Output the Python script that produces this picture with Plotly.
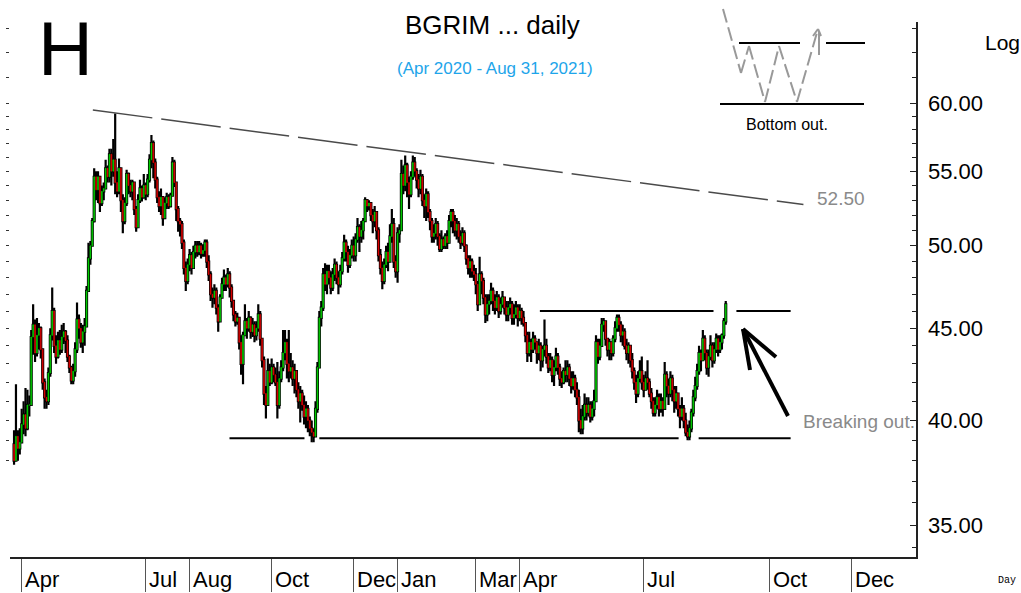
import numpy as np
import pandas as pd
import plotly.graph_objects as go

# ---------------- data ----------------
start_date = "2020-03-26"
first_open = 38.8

closes = [
    38.0, 39.2, 38.6, 38.9, 39.8, 40.3, 39.6, 40.8, 40.8, 44.5,
    45.2, 43.6, 44.6, 45.0, 43.8, 42.0, 41.2, 41.0, 42.5, 44.6,
    46.0, 44.0, 43.4, 44.3, 43.8, 44.5, 44.8, 44.3, 43.4, 42.8,
    42.1, 42.6, 43.8, 45.5, 45.0, 44.2, 44.8, 45.1, 47.2, 49.2,
    50.0, 51.6, 54.6, 53.7, 54.6, 52.8, 53.6, 53.8, 55.2, 54.6,
    56.2, 55.0, 55.8, 54.2, 53.6, 55.2, 53.0, 51.6, 52.8, 54.8,
    54.0, 53.6, 54.2, 52.4, 51.2, 53.0, 53.8, 53.2, 54.0, 53.4,
    54.4, 55.8, 57.0, 55.6, 54.4, 53.2, 52.6, 53.2, 51.8, 52.8,
    53.2, 52.6, 53.3, 55.6, 54.2, 52.4, 51.6, 51.4, 50.2, 48.6,
    47.8, 48.8, 49.4, 48.6, 49.6, 50.0, 49.6, 50.0, 49.5, 49.7,
    50.2, 49.0, 48.2, 47.0, 46.8, 47.2, 46.2, 45.4, 46.8, 47.6,
    48.0, 47.6, 48.2, 47.4, 46.6, 45.8, 45.4, 45.6, 44.2, 43.0,
    44.6, 45.4, 45.0, 45.6, 44.8, 45.2, 44.6, 45.0, 45.8, 44.4,
    43.2, 41.4, 40.8, 42.6, 42.0, 42.8, 42.4, 42.0, 40.8, 42.2,
    42.8, 43.6, 44.2, 43.0, 42.6, 42.8, 42.2, 42.6, 41.6, 41.0,
    41.4, 40.8, 40.2, 40.6, 40.0, 39.6, 39.4, 39.2, 40.6, 42.8,
    45.6, 46.2, 48.2, 47.6, 48.4, 48.0, 47.4, 48.2, 48.8, 48.0,
    47.6, 48.4, 49.2, 50.2, 49.6, 48.8, 49.4, 50.0, 49.4, 50.4,
    51.2, 50.6, 51.0, 51.6, 53.0, 52.6, 52.8, 52.0, 51.6, 52.2,
    51.0, 49.4, 48.6, 47.8, 48.8, 49.6, 49.0, 50.6, 51.4, 49.0,
    48.4, 50.8, 51.0, 54.8, 54.0, 55.4, 54.2, 53.4, 54.6, 55.6,
    55.0, 54.4, 53.8, 54.6, 53.0, 52.6, 53.4, 52.2, 51.6, 50.6,
    50.8, 51.4, 50.6, 49.8, 50.4, 50.0, 50.6, 50.2, 51.6, 52.2,
    51.6, 51.0, 51.4, 50.6, 50.2, 50.8, 50.0, 49.2, 48.6, 49.0,
    48.4, 48.2, 47.6, 46.4, 48.2, 47.8, 46.8, 45.8, 46.4, 46.6,
    47.2, 46.6, 46.2, 46.8, 46.0, 46.4, 46.8, 46.2, 45.8, 46.2,
    46.4, 45.6, 45.8, 46.2, 45.6, 46.0, 45.6, 45.3, 44.6, 43.6,
    44.2, 43.8, 44.4, 44.2, 43.6, 44.0, 43.2, 43.8, 44.0, 43.4,
    42.8, 43.2, 42.4, 42.8, 43.4, 42.8, 42.2, 42.0, 42.6, 42.4,
    42.8, 42.2, 41.8, 42.2, 41.6, 41.2, 40.0, 39.6, 40.2, 40.8,
    40.4, 40.8, 40.2, 40.6, 41.0, 44.2, 43.4, 44.0, 45.2, 45.4,
    44.4, 43.8, 44.2, 43.6, 44.4, 45.0, 45.6, 45.2, 44.6, 44.8,
    44.0, 43.6, 44.0, 43.2, 42.6, 42.0, 41.4, 42.2, 42.6, 42.0,
    41.6, 42.2, 42.0, 41.4, 41.0, 40.4, 40.8, 41.2, 40.6, 41.0,
    40.6, 42.4, 41.8, 41.4, 42.2, 41.6, 41.0, 41.4, 40.6, 40.2,
    40.6, 40.0, 39.4, 39.2, 39.6, 40.4, 41.2, 41.8, 42.6, 43.6,
    43.2, 44.4, 43.6, 42.8, 43.4, 44.0, 43.2, 43.8, 44.4, 43.8,
    44.2, 44.6, 45.4, 46.4,
]

highs = [
    39.5, 41.9, 39.5, 39.6, 40.6, 41.0, 41.7, 41.6, 41.3, 44.9,
    46.4, 45.5, 45.6, 45.3, 45.1, 43.6, 42.2, 41.6, 42.8, 45.0,
    47.4, 46.2, 44.6, 44.8, 44.9, 45.2, 45.3, 44.9, 44.6, 43.5,
    42.9, 43.0, 44.2, 46.5, 45.8, 45.3, 45.2, 45.6, 47.5, 50.2,
    50.3, 51.8, 55.2, 55.0, 55.0, 54.2, 54.0, 54.2, 55.8, 55.4,
    56.6, 56.6, 57.3, 59.2, 55.0, 55.9, 55.0, 53.4, 53.2, 55.1,
    54.9, 54.4, 54.4, 54.2, 52.6, 53.4, 54.4, 54.0, 54.8, 54.2,
    54.8, 56.2, 57.6, 57.2, 55.9, 54.6, 53.6, 53.8, 53.0, 53.2,
    53.5, 53.4, 53.5, 56.0, 55.8, 52.7, 52.6, 51.8, 51.6, 50.4,
    49.0, 49.2, 49.8, 49.6, 50.0, 50.3, 50.3, 50.3, 50.2, 50.1,
    50.4, 50.4, 49.4, 48.4, 47.4, 47.6, 47.4, 46.4, 47.0, 48.0,
    48.5, 48.2, 48.6, 48.4, 47.6, 46.6, 46.0, 45.9, 45.6, 44.6,
    44.8, 46.4, 45.6, 46.0, 45.7, 45.6, 45.4, 45.4, 46.4, 46.0,
    44.4, 43.4, 41.8, 43.3, 43.0, 43.3, 43.0, 42.8, 43.1, 42.6,
    43.2, 44.9, 44.9, 44.4, 44.9, 43.6, 43.2, 43.0, 42.6, 42.0,
    41.8, 41.6, 41.3, 41.0, 40.8, 40.2, 40.0, 39.6, 41.0, 43.1,
    46.0, 46.6, 48.6, 48.9, 48.8, 48.8, 48.4, 48.6, 49.2, 49.0,
    48.4, 48.8, 49.6, 50.7, 50.4, 50.0, 49.8, 50.4, 50.6, 50.8,
    51.8, 51.4, 51.6, 51.8, 53.2, 53.0, 53.0, 52.7, 52.4, 52.6,
    52.2, 51.2, 49.8, 49.0, 49.2, 50.0, 50.2, 51.4, 52.4, 51.8,
    49.4, 51.2, 51.4, 55.8, 55.4, 56.1, 55.6, 54.6, 55.0, 56.1,
    56.0, 55.2, 54.8, 55.1, 54.8, 53.4, 53.8, 53.6, 52.4, 51.8,
    51.4, 51.8, 51.6, 50.8, 51.0, 50.6, 50.8, 51.0, 52.0, 52.4,
    52.4, 52.0, 51.8, 51.6, 51.0, 51.2, 51.0, 50.1, 49.4, 49.4,
    49.2, 48.8, 48.6, 47.8, 49.3, 48.4, 48.0, 47.0, 47.0, 47.0,
    47.7, 47.4, 47.0, 47.2, 47.0, 46.8, 47.2, 46.8, 46.6, 46.6,
    46.8, 46.6, 46.4, 46.6, 46.4, 46.4, 46.2, 46.0, 45.3, 44.8,
    44.8, 44.4, 44.8, 44.6, 44.2, 44.4, 44.2, 44.0, 45.5, 44.4,
    43.6, 43.6, 43.4, 43.2, 43.9, 43.6, 43.0, 42.6, 42.8, 43.2,
    43.2, 43.0, 42.6, 42.6, 42.4, 42.0, 41.6, 40.6, 40.8, 41.4,
    41.2, 41.2, 41.0, 41.0, 41.6, 44.6, 44.4, 44.4, 45.6, 45.6,
    45.0, 44.4, 44.4, 44.2, 44.6, 45.4, 45.8, 45.8, 45.4, 45.2,
    45.0, 44.4, 44.2, 44.0, 43.6, 42.8, 42.4, 42.6, 43.2, 43.4,
    42.4, 42.6, 43.2, 42.2, 41.7, 41.2, 41.2, 41.6, 41.4, 41.4,
    41.2, 43.1, 42.6, 42.2, 42.6, 42.4, 41.8, 41.8, 41.4, 40.8,
    41.2, 40.8, 40.4, 39.8, 40.0, 40.6, 41.6, 42.3, 43.0, 44.0,
    43.8, 44.9, 44.6, 43.8, 43.8, 44.6, 44.2, 44.2, 44.7, 44.6,
    44.6, 44.7, 45.6, 46.6,
]

lows = [
    37.8, 38.6, 38.0, 38.3, 38.9, 39.3, 39.2, 39.5, 40.2, 41.0,
    43.5, 43.1, 43.4, 43.8, 43.3, 41.6, 40.6, 40.6, 40.8, 42.3,
    44.3, 43.6, 43.0, 43.3, 43.5, 43.6, 44.1, 43.6, 43.1, 42.5,
    41.9, 41.9, 42.3, 43.6, 44.4, 43.9, 43.6, 44.0, 45.9, 47.2,
    48.8, 50.0, 51.5, 53.0, 52.8, 52.2, 52.6, 53.0, 54.4, 54.2,
    54.2, 54.0, 54.6, 53.4, 53.2, 53.4, 52.2, 50.8, 51.4, 52.6,
    53.4, 53.2, 53.0, 52.0, 50.9, 51.4, 52.8, 52.9, 53.1, 53.0,
    53.2, 54.2, 55.2, 54.5, 53.8, 52.8, 52.2, 52.0, 51.3, 52.0,
    52.4, 52.4, 52.5, 53.6, 53.9, 51.6, 50.9, 50.6, 49.8, 48.2,
    47.2, 47.6, 48.4, 48.2, 48.6, 49.2, 49.3, 49.4, 49.2, 49.3,
    49.3, 48.6, 47.8, 46.6, 46.2, 46.4, 45.8, 44.8, 45.4, 46.8,
    47.2, 47.2, 47.4, 46.8, 46.2, 45.4, 45.1, 45.2, 43.8, 42.4,
    41.9, 44.6, 44.4, 44.8, 44.4, 44.5, 44.2, 44.3, 44.8, 44.0,
    42.8, 40.8, 40.1, 41.6, 41.8, 41.9, 42.0, 41.8, 40.1, 40.6,
    42.0, 42.6, 43.2, 42.2, 42.0, 42.2, 41.8, 41.4, 41.2, 40.6,
    39.9, 40.5, 39.8, 39.6, 39.4, 39.2, 38.9, 38.9, 39.6, 40.4,
    43.0, 45.1, 46.0, 47.2, 47.0, 47.6, 47.0, 47.2, 47.8, 47.6,
    47.0, 47.4, 48.2, 49.0, 49.0, 48.3, 48.6, 49.2, 49.0, 49.0,
    50.2, 49.6, 50.2, 50.4, 52.4, 52.2, 52.3, 51.6, 50.8, 51.2,
    50.4, 49.0, 48.2, 47.3, 47.6, 48.6, 48.4, 49.2, 50.2, 48.6,
    48.0, 47.7, 50.2, 53.3, 53.4, 53.6, 53.2, 52.4, 53.2, 54.4,
    54.6, 53.8, 53.2, 53.4, 52.6, 51.8, 51.6, 51.8, 51.0, 50.2,
    50.2, 50.4, 50.0, 49.6, 49.6, 49.8, 49.8, 49.8, 50.2, 51.2,
    50.8, 50.6, 50.4, 50.2, 49.8, 50.0, 49.6, 48.8, 48.2, 48.0,
    48.0, 47.8, 47.0, 46.0, 46.6, 47.0, 46.4, 45.3, 45.4, 45.8,
    46.4, 46.0, 45.8, 46.0, 45.6, 45.8, 46.2, 45.8, 45.4, 45.4,
    45.8, 45.2, 45.2, 45.6, 45.1, 45.4, 45.2, 45.1, 44.2, 43.1,
    43.4, 43.1, 43.6, 43.8, 43.0, 43.2, 42.6, 42.8, 43.4, 43.0,
    42.5, 42.6, 42.0, 41.8, 42.6, 42.4, 41.8, 41.7, 41.9, 42.0,
    42.0, 41.8, 41.4, 41.6, 41.2, 40.8, 39.4, 39.3, 39.3, 40.0,
    40.0, 40.2, 39.9, 40.0, 40.2, 42.5, 43.0, 43.2, 44.8, 44.8,
    44.0, 43.4, 43.2, 43.2, 43.4, 44.2, 44.8, 44.8, 44.2, 44.0,
    43.8, 43.2, 43.0, 42.8, 42.2, 41.6, 40.9, 41.2, 42.0, 41.6,
    41.2, 41.6, 41.6, 41.2, 40.6, 40.2, 40.2, 40.6, 40.2, 40.4,
    40.2, 40.6, 41.2, 40.8, 41.2, 41.0, 40.4, 40.6, 40.2, 39.6,
    40.0, 39.6, 39.2, 39.0, 39.0, 39.4, 40.2, 41.0, 41.6, 42.4,
    42.6, 43.2, 43.2, 42.4, 42.3, 43.2, 42.8, 43.0, 43.6, 43.4,
    43.6, 43.8, 44.4, 45.2,
]

# axis labels
y_tick_vals = [35, 40, 45, 50, 55, 60]
y_tick_text = ["35.00", "40.00", "45.00", "50.00", "55.00", "60.00"]
x_tick_dates = ["2020-04-01", "2020-07-01", "2020-08-03", "2020-10-01", "2020-12-01",
                "2021-01-01", "2021-03-01", "2021-04-01", "2021-07-01", "2021-10-01",
                "2021-12-01"]
x_tick_text = ["Apr", "Jul", "Aug", "Oct", "Dec", "Jan", "Mar", "Apr", "Jul", "Oct", "Dec"]

# chart-pattern levels drawn on the chart
support_level = 39.1
resistance_level = 46.0
trend_start = ("2020-05-22 07:00", 59.47)
trend_end = ("2021-10-26 17:00", 52.7)

# ---------------- build ----------------
dates = pd.bdate_range(start_date, periods=len(closes))
opens = [first_open] + closes[:-1]
hi = [max(h, o, c) for h, o, c in zip(highs, opens, closes)]
lo = [min(l, o, c) for l, o, c in zip(lows, opens, closes)]
body_hi = [max(o, c) for o, c in zip(opens, closes)]
body_lo = [min(o, c) for o, c in zip(opens, closes)]

W_PX, H_PX = 1021, 593
L, R, T, B = 10, 916, 22, 557
PW, PH = R - L, B - T


def px(x):
    return (x - L) / PW


def py(y):
    return (B - y) / PH


fig = go.Figure()
# black high-low bars
fig.add_trace(go.Candlestick(
    x=dates, open=opens, high=hi, low=lo, close=closes,
    increasing=dict(line=dict(color="black", width=2.2), fillcolor="black"),
    decreasing=dict(line=dict(color="black", width=2.2), fillcolor="black"),
    whiskerwidth=0, showlegend=False, hoverinfo="skip",
))
# coloured open-close streaks
fig.add_trace(go.Candlestick(
    x=dates, open=opens, high=body_hi, low=body_lo, close=closes,
    increasing=dict(line=dict(color="#00d400", width=0.6), fillcolor="#00d400"),
    decreasing=dict(line=dict(color="#e00000", width=0.6), fillcolor="#e00000"),
    whiskerwidth=0, showlegend=False, hoverinfo="skip",
))

# left-hand minor ticks (secondary axis, no labels)
left_ticks = list(range(38, 61)) + [62, 64, 66]
fig.add_trace(go.Scatter(x=[dates[0]], y=[45], yaxis="y2", mode="markers",
                         marker=dict(opacity=0), showlegend=False, hoverinfo="skip"))

yr = [np.log10(60 * np.exp(-(B - 103) / 783)), np.log10(60 * np.exp((103 - T) / 783))]

minor_right = [v for v in range(34, 61) if v not in y_tick_vals] + [62, 64, 66]

fig.update_layout(
    width=W_PX, height=H_PX, autosize=False,
    margin=dict(l=L, r=W_PX - R, t=T, b=H_PX - B, autoexpand=False),
    paper_bgcolor="white", plot_bgcolor="white",
    showlegend=False,
    font=dict(family="Liberation Sans, Arial, sans-serif", color="black"),
    xaxis=dict(
        type="date", automargin=False,
        range=["2020-03-23 21:00", "2022-01-17 17:00"],
        rangebreaks=[dict(bounds=["sat", "mon"])],
        tickmode="array", tickvals=x_tick_dates, ticktext=x_tick_text,
        showticklabels=False, ticks="outside", ticklen=33, tickwidth=1, tickcolor="#555",
        showline=True, linecolor="#222", linewidth=1.5, showgrid=False, zeroline=False,
        rangeslider=dict(visible=False), fixedrange=True,
    ),
    yaxis=dict(
        type="log", side="right", range=yr, automargin=False,
        tickmode="array", tickvals=y_tick_vals, ticktext=y_tick_text,
        ticks="inside", ticklen=6, tickcolor="#222", tickwidth=1,
        ticklabelstandoff=6,
        tickfont=dict(size=22, color="black"),
        minor=dict(tickmode="array", tickvals=minor_right, ticks="inside", ticklen=4,
                   tickcolor="#222", tickwidth=1, showgrid=False),
        showline=True, linecolor="#222", linewidth=1.5, showgrid=False, zeroline=False,
        fixedrange=True,
    ),
    yaxis2=dict(
        type="log", overlaying="y", side="left", range=yr, automargin=False,
        tickmode="array", tickvals=left_ticks, showticklabels=False,
        ticks="outside", ticklen=3, tickcolor="#333", tickwidth=1,
        showline=False, showgrid=False, zeroline=False, fixedrange=True,
    ),
)

shapes = []
# downward trend line (dashed)
shapes.append(dict(type="line", xref="x", yref="y",
                   x0=trend_start[0], y0=trend_start[1], x1=trend_end[0], y1=trend_end[1],
                   line=dict(color="#4a4a4a", width=1.5, dash="60px,9px")))
# support line segments
for a, b in [("2020-08-31 22:00", "2020-10-26 05:00"),
             ("2020-11-05", "2021-07-27 07:00"),
             ("2021-08-10 19:00", "2021-10-18")]:
    shapes.append(dict(type="line", xref="x", yref="y", x0=a, x1=b,
                       y0=support_level, y1=support_level,
                       line=dict(color="black", width=2)))
# resistance line segments
for a, b in [("2021-04-15 14:00", "2021-08-20 14:00"),
             ("2021-09-07 14:00", "2021-10-18")]:
    shapes.append(dict(type="line", xref="x", yref="y", x0=a, x1=b,
                       y0=resistance_level, y1=resistance_level,
                       line=dict(color="black", width=2)))

# breakout arrow
for (x0, y0, x1, y1) in [(788, 416, 743, 329), (743, 329, 750, 370), (743, 329, 776, 357)]:
    shapes.append(dict(type="line", xref="paper", yref="paper",
                       x0=px(x0), y0=py(y0), x1=px(x1), y1=py(y1),
                       line=dict(color="black", width=4)))

# inset "W" diagram
shapes.append(dict(type="line", xref="paper", yref="paper", x0=px(739), x1=px(800),
                   y0=py(43), y1=py(43), line=dict(color="black", width=2)))
shapes.append(dict(type="line", xref="paper", yref="paper", x0=px(826), x1=px(865),
                   y0=py(43), y1=py(43), line=dict(color="black", width=2)))
shapes.append(dict(type="line", xref="paper", yref="paper", x0=px(720), x1=px(864),
                   y0=py(104), y1=py(104), line=dict(color="black", width=2)))
w_pts = [(723, 9), (741, 73), (749, 46), (765, 102), (779, 46), (797, 102), (818, 29)]
for (xa, ya), (xb, yb) in zip(w_pts[:-1], w_pts[1:]):
    shapes.append(dict(type="line", xref="paper", yref="paper",
                       x0=px(xa), y0=py(ya), x1=px(xb), y1=py(yb),
                       line=dict(color="#999999", width=2, dash="14px,5px")))
for (xa, ya, xb, yb) in [(813, 36, 818, 29), (818, 29, 821, 36), (819, 31, 819, 55)]:
    shapes.append(dict(type="line", xref="paper", yref="paper",
                       x0=px(xa), y0=py(ya), x1=px(xb), y1=py(yb),
                       line=dict(color="#999999", width=2)))
fig.update_layout(shapes=shapes)

ann = []
# x tick labels, placed right of each tick line
for d, t in zip(x_tick_dates, x_tick_text):
    ann.append(dict(x=d, xref="x", y=py(565), yref="paper", text=t, showarrow=False,
                    xanchor="left", yanchor="top", xshift=1,
                    font=dict(size=22, color="black")))


def label(text, x, y, size, color="black", xanchor="center", family=None):
    f = dict(size=size, color=color)
    if family:
        f["family"] = family
    return dict(x=px(x), y=py(y), xref="paper", yref="paper", text=text, showarrow=False,
                xanchor=xanchor, yanchor="middle", font=f)


ann += [
    label("H", 65, 48, 76),
    label("BGRIM ... daily", 493, 25, 26),
    label("(Apr 2020 - Aug 31, 2021)", 495, 68, 17, color="#1ea5ea"),
    label("Log", 983, 42, 21, xanchor="left"),
    label("52.50", 815, 199, 19, color="#8a8a8a", xanchor="left"),
    label("Breaking out.", 801, 421, 19, color="#8a8a8a", xanchor="left"),
    label("Bottom out.", 787, 125, 16),
    label("Day", 996, 580, 10, xanchor="left", family="Liberation Mono, monospace"),
]
fig.update_layout(annotations=ann)

# remove the browser's default page margin so the figure fills the window exactly
fig.write_html("out.html",
               config={"displayModeBar": False, "staticPlot": True},
               post_script="document.body.style.margin='0';document.body.style.padding='0';"
                           "document.documentElement.style.overflow='hidden';")
